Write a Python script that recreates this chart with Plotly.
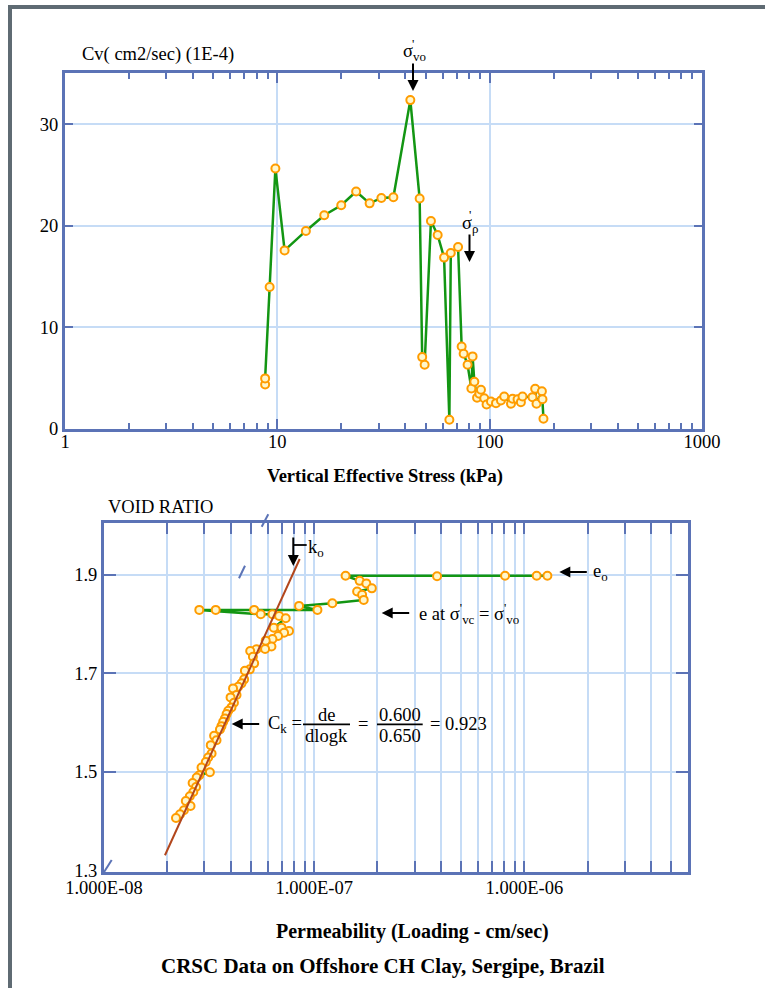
import plotly.graph_objects as go

W, H = 765, 988
def px(x): return x / W
def py(y): return 1 - y / H

# ---------------- data: top chart (Cv vs vertical effective stress) ----------------
stress_kpa = [8.76, 8.76, 9.20, 9.79, 10.82, 13.63, 16.63, 20.0, 23.5, 27.2, 30.9, 35.2,
              42.3, 46.8, 48.1, 49.4, 52.9, 56.9, 61.0, 64.6, 65.6, 71.0, 73.8, 75.4,
              78.7, 82.0, 83.1, 84.7, 87.2, 89.4, 91.0, 94.3, 96.7, 101.4, 107.1, 113.0,
              117.1, 126.0, 128.2, 135.3, 140.3, 142.8, 159.1, 163.8, 166.2, 176.2, 177.3, 179.2]
cv_1e4 = [4.34, 4.94, 13.95, 25.64, 17.56, 19.48, 21.03, 22.01, 23.37, 22.2, 22.73, 22.80,
          32.38, 22.67, 7.04, 6.29, 20.46, 19.07, 16.85, 0.86, 17.3, 17.9, 8.09, 7.37,
          6.29, 3.95, 7.11, 4.61, 3.03, 3.43, 3.82, 2.99, 2.37, 2.67, 2.50, 2.76,
          3.16, 2.44, 2.93, 2.89, 2.60, 3.16, 3.09, 3.92, 2.44, 3.68, 2.89, 0.96]

# ---------------- data: bottom chart (void ratio vs permeability) ----------------
perm_cm_s = [1.286e-6, 1.144e-6, 8.09e-7, 3.84e-7, 1.41e-7,
             1.645e-7, 1.77e-7, 1.88e-7, 1.60e-7, 1.69e-7, 1.72e-7, 1.22e-7, 8.47e-8,
             1.036e-7, 5.18e-8, 3.40e-8, 2.84e-8, 5.57e-8, 6.33e-8, 6.81e-8, 7.32e-8,
             6.42e-8, 6.99e-8, 7.59e-8, 7.19e-8, 6.73e-8, 6.33e-8, 5.88e-8, 6.26e-8,
             5.84e-8, 5.31e-8, 4.96e-8, 5.11e-8, 5.18e-8, 4.94e-8, 4.68e-8, 4.64e-8,
             4.51e-8, 4.35e-8, 4.11e-8, 4.27e-8, 4.00e-8, 4.15e-8, 4.04e-8, 3.90e-8,
             3.83e-8, 3.76e-8, 3.69e-8, 3.62e-8, 3.56e-8, 3.34e-8, 3.43e-8, 3.22e-8,
             3.25e-8, 3.13e-8, 3.05e-8, 2.91e-8, 3.19e-8, 2.84e-8, 2.76e-8, 2.64e-8,
             2.74e-8, 2.66e-8, 2.56e-8, 2.45e-8, 2.58e-8, 2.40e-8, 2.30e-8, 2.20e-8]
void_ratio = [1.898, 1.898, 1.898, 1.897, 1.898,
              1.8876, 1.8825, 1.8724, 1.8659, 1.8592, 1.849, 1.8423, 1.8368,
              1.8287, 1.8287, 1.8287, 1.8287, 1.8199, 1.8199, 1.8165, 1.8118,
              1.7927, 1.7927, 1.786, 1.7825, 1.7758, 1.7697, 1.7663, 1.7545,
              1.7494, 1.7488, 1.7453, 1.7337, 1.7203, 1.7081, 1.7053, 1.6878,
              1.6797, 1.6728, 1.6695, 1.6559, 1.6512, 1.6402, 1.6309, 1.624,
              1.6173, 1.6085, 1.6016, 1.5929, 1.5862, 1.5732, 1.5644, 1.5543,
              1.5374, 1.5293, 1.5203, 1.5089, 1.4994, 1.4933, 1.4886, 1.4776,
              1.4695, 1.4593, 1.4506, 1.4411, 1.4309, 1.4222, 1.414, 1.4065]
fit_k = [1.95e-8, 8.53e-8]
fit_e = [1.331, 1.932]

top_xticks = [1, 10, 100, 1000]
top_xlabels = ["1", "10", "100", "1000"]
top_yticks = [0, 10, 20, 30]
bot_yticks = [1.3, 1.5, 1.7, 1.9]
bot_ylabels = ["1.3", "1.5", "1.7", "1.9"]
decade_labels = {-8: "1.000E-08", -7: "1.000E-07", -6: "1.000E-06"}

BLUE = "#5b73b6"
GRID = "#c6dcf6"
GREEN = "#139613"
ORANGE = "#ff9c00"
FILL = "#fff7cc"
BROWN = "#b2461c"
FONT = "Liberation Serif"
FS = 18.5

top_minor = [m * 10 ** d for d in range(0, 3) for m in range(2, 10)]
bot_tickvals, bot_ticktext = [], []
for d in (-8, -7, -6):
    for m in range(1, 10):
        v = m * 10.0 ** d
        if v <= 6e-6:
            bot_tickvals.append(v)
            bot_ticktext.append(decade_labels[d] if m == 1 else "")

fig = go.Figure()
marker = dict(symbol="circle", size=8, color=FILL, line=dict(color=ORANGE, width=2))
fig.add_trace(go.Scatter(x=stress_kpa, y=cv_1e4, mode="lines+markers",
                         line=dict(color=GREEN, width=2.5), marker=marker,
                         xaxis="x", yaxis="y", showlegend=False))
fig.add_trace(go.Scatter(x=perm_cm_s, y=void_ratio, mode="lines+markers",
                         line=dict(color=GREEN, width=2.5), marker=marker,
                         xaxis="x2", yaxis="y2", showlegend=False))
fig.add_trace(go.Scatter(x=fit_k, y=fit_e, mode="lines",
                         line=dict(color=BROWN, width=2),
                         xaxis="x2", yaxis="y2", showlegend=False))

axis_common = dict(showline=True, linecolor=BLUE, linewidth=3, mirror="allticks",
                   ticks="inside", tickcolor=BLUE, tickwidth=2, automargin=False,
                   showgrid=True, gridcolor=GRID, gridwidth=2, zeroline=False,
                   tickfont=dict(family=FONT, size=FS, color="black"))

fig.update_layout(
    width=W, height=H, margin=dict(l=0, r=0, t=0, b=0, pad=0, autoexpand=False),
    autosize=False,
    paper_bgcolor="white", plot_bgcolor="white",
    xaxis=dict(axis_common, type="log", range=[0, 3], domain=[px(65), px(702)], anchor="y",
               tickvals=top_xticks, ticktext=top_xlabels, ticklen=10, ticklabelstandoff=-6,
               minor=dict(tickvals=top_minor, ticks="inside", ticklen=6, tickwidth=2,
                          tickcolor=BLUE, showgrid=False)),
    yaxis=dict(axis_common, range=[0, 35.1], domain=[py(428.5), py(72.5)], anchor="x",
               tickvals=top_yticks, ticklen=8),
    xaxis2=dict(axis_common, type="log", range=[-8, -5.2218], domain=[px(104), px(688)],
                anchor="y2", tickvals=bot_tickvals, ticktext=bot_ticktext, ticklen=11,
                ticklabelstandoff=-3),
    yaxis2=dict(axis_common, range=[1.298, 2.005], domain=[py(871.5), py(523)], anchor="x2",
                tickvals=bot_yticks, ticktext=bot_ylabels, ticklen=12),
)

shapes = []
# outer gray frame
shapes.append(dict(type="rect", xref="paper", yref="paper", x0=px(8), x1=px(765),
                   y0=py(9), y1=py(5), fillcolor="#5f6b73", line=dict(width=0)))
shapes.append(dict(type="rect", xref="paper", yref="paper", x0=px(8), x1=px(12),
                   y0=py(988), y1=py(5), fillcolor="#5f6b73", line=dict(width=0)))
# axis-break marks
for (x0, y0, x1, y1) in [(261.7, 526.7, 268.3, 514.3), (239, 578.3, 245, 565.7),
                         (103.3, 873.3, 111.7, 860)]:
    shapes.append(dict(type="line", xref="paper", yref="paper", x0=px(x0), y0=py(y0),
                       x1=px(x1), y1=py(y1), line=dict(color=BLUE, width=2)))
# white label boxes (break grid lines)
for (x0, y0, x1, y1) in [(262, 701, 493, 750), (413, 597, 527, 628), (556, 558, 614, 588),
                         (307, 536, 330, 560)]:
    shapes.append(dict(type="rect", xref="paper", yref="paper", x0=px(x0), x1=px(x1),
                       y0=py(y1), y1=py(y0), fillcolor="white", line=dict(width=0),
                       layer="between"))
# fraction bars & ko tick
for (x0, y0, x1, y1) in [(303, 724.3, 350, 724.3), (377, 724.3, 422.7, 724.3),
                         (293.3, 545, 306.7, 545)]:
    shapes.append(dict(type="line", xref="paper", yref="paper", x0=px(x0), y0=py(y0),
                       x1=px(x1), y1=py(y1), line=dict(color="black", width=1.8)))
fig.update_layout(shapes=shapes)

ann = []
def text(x, y, s, size=FS, anchor="center", bold=False):
    if bold:
        s = "<b>" + s + "</b>"
    ann.append(dict(x=px(x), y=py(y), xref="paper", yref="paper", text=s, showarrow=False,
                    xanchor=anchor, yanchor="middle",
                    font=dict(family=FONT, size=size, color="black")))

def arrow(tx, ty, dx, dy):
    ann.append(dict(x=px(tx), y=py(ty), xref="paper", yref="paper", text="",
                    showarrow=True, ax=dx, ay=dy, arrowhead=2, arrowsize=1.1,
                    arrowwidth=2, arrowcolor="black", standoff=0, startstandoff=0))

text(80, 55, "Cv( cm2/sec) (1E-4)", anchor="left")
text(385, 476, "Vertical Effective Stress (kPa)", bold=True)
text(106, 507, "VOID RATIO", anchor="left")
text(412, 931, "Permeability (Loading - cm/sec)", bold=True, size=20)
text(383, 966, "CRSC Data on Offshore CH Clay, Sergipe, Brazil", bold=True, size=21)

# sigma'vo
text(414, 53, "σ<sub>vo</sub>")
text(412.5, 44, "'", size=13)
arrow(413, 91, 0, -29)
# sigma'p
text(470, 224, "σ<sub>ρ</sub>")
text(469.5, 214, "'", size=13)
arrow(469.5, 262, 0, -29)
# ko
arrow(293.3, 566, 0, -30)
text(316, 548, "k<sub>o</sub>")
# eo
arrow(559.3, 572, 29, 0)
text(600, 572, "e<sub>o</sub>")
# e at sigma'vc = sigma'vo
arrow(381.7, 613, 29, 0)
text(469, 613, "e at σ<sup>'</sup><sub>vc</sub> = σ<sup>'</sup><sub>vo</sub>")
# Ck
arrow(231.7, 724, 29, 0)
text(266, 724, "C<sub>k</sub> =", anchor="left")
text(326.7, 715, "de")
text(326.7, 736, "dlogk")
text(363.3, 724, "=")
text(400, 715, "0.600")
text(400, 736, "0.650")
text(458.5, 724, "= 0.923")

fig.update_layout(annotations=ann)
fig.write_html("out.html", config={"displayModeBar": False},
               post_script="document.body.style.margin='0px';document.body.style.padding='0px';")
